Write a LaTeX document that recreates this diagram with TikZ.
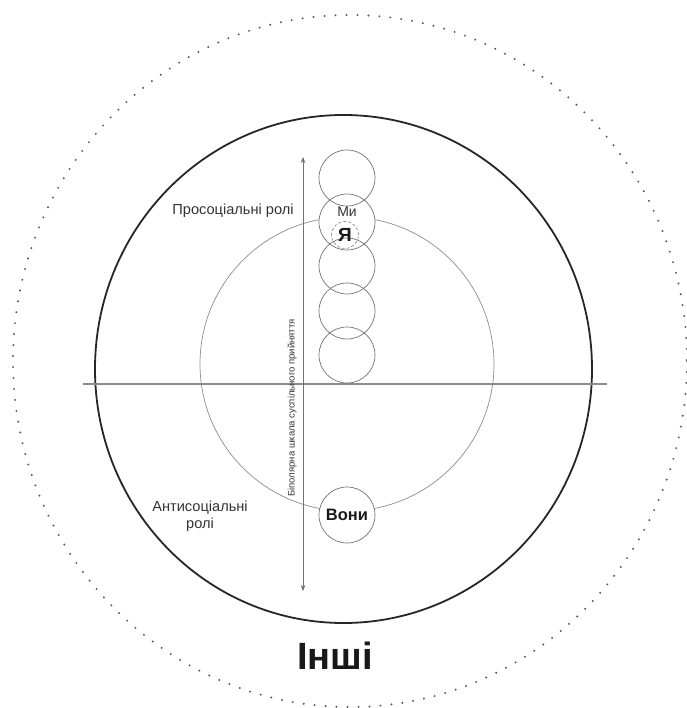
\documentclass[tikz,border=0pt]{standalone}
\usepackage{fontspec}
\setmainfont{Liberation Sans}
\usetikzlibrary{arrows.meta}
\begin{document}
\begin{tikzpicture}[x=1pt,y=-1pt,
  bub/.style={circle, draw=black!55, line width=0.7pt, minimum size=56pt, inner sep=0pt},
  bubfill/.style={circle, fill=white, minimum size=56pt, inner sep=0pt},
  lab/.style={font=\fontsize{14.6}{17}\selectfont, text=black!80, align=center},
  boldlab/.style={font=\bfseries\fontsize{16.5}{18}\selectfont, text=black!90},
  axarrow/.style={black!55, line width=0.6pt, {Stealth[length=6pt,width=4.5pt,fill=black!80]}-{Stealth[length=6pt,width=4.5pt,fill=black!80]}},
]
\useasboundingbox (0,0) rectangle (686,708);
% outer dotted ring
\draw[black!65, line width=2.2pt, dash pattern=on 0pt off 11pt, line cap=round]
  (350,361) ellipse [x radius=337, y radius=346];
% main black ring
\draw[black!85, line width=1.8pt] (343.5,369) ellipse [x radius=248.5, y radius=254];
% grey inner circle
\draw[black!45, line width=0.7pt] (347,364) circle [radius=147];
% axes
\coordinate (hl) at (83,384);
\coordinate (hr) at (607,384);
\draw[black!45, line width=1.4pt] (hl) -- (hr);
\coordinate (atop) at (303,157);
\coordinate (abot) at (303,591);
\draw[axarrow] (atop) -- (abot);
% white fills for bubbles
\node[bubfill] (f1) at (347,178) {};
\node[bubfill] (f2) at (347,222) {};
\node[bubfill] (f3) at (347,266) {};
\node[bubfill] (f4) at (347,311) {};
\node[bubfill] (f5) at (347,355) {};
\node[bubfill] (fv) at (347,515) {};
% bubbles
\node[bub] (c1) at (347,178) {};
\node[bub] (c2) at (347,222) {};
\node[bub] (c3) at (347,266) {};
\node[bub] (c4) at (347,311) {};
\node[bub] (c5) at (347,355) {};
\node[bub, boldlab] (voni) at (347,515) {Вони};
\node[font=\fontsize{14}{16}\selectfont, text=black!80] (my) at (347,212) {Ми};
\node[circle, draw=black!50, densely dashed, line width=0.6pt, minimum size=27pt, inner sep=0pt, font=\bfseries\fontsize{19}{20}\selectfont, text=black!90] (ya) at (345,235) {Я};
% labels
\node[lab] (pro) at (233,211) {Просоціальні ролі};
\node[lab] (anti) at (200,516) {Антисоціальні\\ролі};
\node[rotate=90, font=\fontsize{9.5}{11}\selectfont, text=black!80] (scale) at (292,408) {Біполярна шкала суспільного прийняття};
\node[font=\bfseries\fontsize{38}{40}\selectfont, text=black!90] (inshi) at (335,656) {Інші};
\end{tikzpicture}
\end{document}
